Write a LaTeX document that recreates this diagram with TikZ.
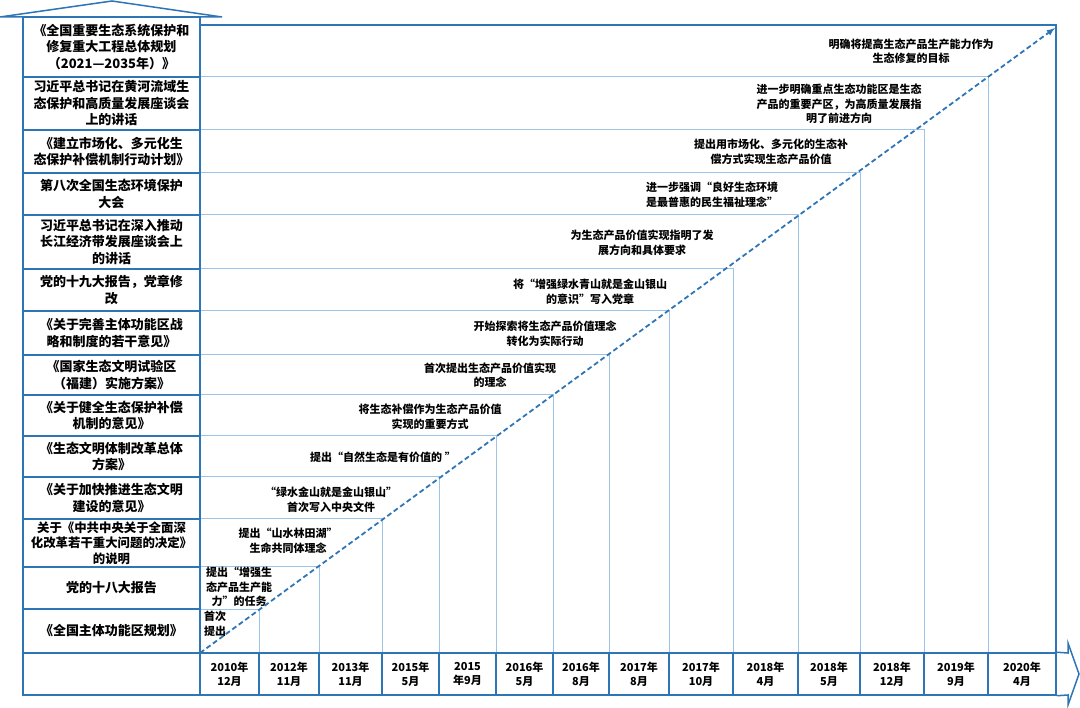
\documentclass[tikz,border=0pt]{standalone}
\usepackage{fontspec}
\newfontfamily\cjk{Noto Sans CJK SC}
\definecolor{bleu}{HTML}{2E75B6}
\definecolor{bleuclair}{HTML}{9DC3E6}
\begin{document}
\begin{tikzpicture}[x=1pt, y=-1pt, >=latex]
    % --- Définition des styles ---
    \tikzset{
        cadre/.style={draw=bleu, line width=1.5pt},
        grille/.style={draw=bleuclair, line width=1pt},
        doc_box/.style={cadre, minimum width=177pt, inner sep=0pt, align=center,
            font=\cjk\bfseries\fontsize{13}{16.5}\selectfont},
        date_box/.style={cadre, minimum height=42pt, inner sep=0pt, align=center,
            font=\cjk\bfseries\fontsize{11}{14}\selectfont},
        evt_txt/.style={align=center, inner sep=0pt,
            font=\cjk\bfseries\fontsize{11}{14.5}\selectfont},
        diag/.style={draw=bleu, line width=1.8pt, dash pattern=on 5pt off 3pt, ->}
    }
    \useasboundingbox (0,0) rectangle (1080,708);

    % =====================================================================
    % GRILLE EN ESCALIER
    % =====================================================================
    \foreach \xc/\yt in {259/609, 319/567, 382/519, 439/477, 496/436, 553/395, 609/355,
                         669/311, 733/269, 798/215, 860/173, 924/130, 988/77} {
        \draw[grille] (200,\yt) -- (\xc,\yt) -- (\xc,653);
    }
    \draw[draw=bleu, line width=1.2pt] (200,25) -- (1056,25) -- (1056,653);

    % Toit (flèche vers le haut)
    \draw[cadre] (0,17) -- (112,1) -- (222,17) -- cycle;

    % =====================================================================
    % COLONNE GAUCHE : DOCUMENTS
    % =====================================================================
    \node[doc_box, minimum height=60pt] (doc1) at (111.5,47)
        {《全国重要生态系统保护和\\修复重大工程总体规划\\（2021—2035年）》};
    \node[doc_box, minimum height=53pt] (doc2) at (111.5,103.5)
        {习近平总书记在黄河流域生\\态保护和高质量发展座谈会\\上的讲话};
    \node[doc_box, minimum height=43pt] (doc3) at (111.5,151.5)
        {《建立市场化、多元化生\\态保护补偿机制行动计划》};
    \node[doc_box, minimum height=42pt] (doc4) at (111.5,194)
        {第八次全国生态环境保护\\大会};
    \node[doc_box, minimum height=54pt] (doc5) at (111.5,242)
        {习近平总书记在深入推动\\长江经济带发展座谈会上\\的讲话};
    \node[doc_box, minimum height=42pt] (doc6) at (111.5,290)
        {党的十九大报告，党章修\\改};
    \node[doc_box, minimum height=44pt] (doc7) at (111.5,333)
        {《关于完善主体功能区战\\略和制度的若干意见》};
    \node[doc_box, minimum height=40pt] (doc8) at (111.5,375)
        {《国家生态文明试验区\\（福建）实施方案》};
    \node[doc_box, minimum height=41pt] (doc9) at (111.5,415.5)
        {《关于健全生态保护补偿\\机制的意见》};
    \node[doc_box, minimum height=41pt] (doc10) at (111.5,456.5)
        {《生态文明体制改革总体\\方案》};
    \node[doc_box, minimum height=42pt] (doc11) at (111.5,498)
        {《关于加快推进生态文明\\建设的意见》};
    \node[doc_box, minimum height=48pt, font=\cjk\bfseries\fontsize{12.4}{15.5}\selectfont] (doc12) at (111.5,543)
        {关于《中共中央关于全面深\\化改革若干重大问题的决定》\\的说明};
    \node[doc_box, minimum height=42pt] (doc13) at (111.5,588)
        {党的十八大报告};
    \node[doc_box, minimum height=44pt] (doc14) at (111.5,631)
        {《全国主体功能区规划》};
    \node[doc_box, minimum height=42pt] (axe) at (111.5,674) {};

    % =====================================================================
    % AXE DU TEMPS
    % =====================================================================
    \foreach \xa/\xb/\dt [count=\k] in {200/259/{2010年\\12月}, 259/319/{2012年\\11月},
            319/382/{2013年\\11月}, 382/439/{2015年\\5月}, 439/496/{2015\\年9月},
            496/553/{2016年\\5月}, 553/609/{2016年\\8月}, 609/669/{2017年\\8月},
            669/733/{2017年\\10月}, 733/798/{2018年\\4月}, 798/860/{2018年\\5月},
            860/924/{2018年\\12月}, 924/988/{2019年\\9月}, 988/1056/{2020年\\4月}} {
        \node[date_box, minimum width={(\xb-\xa)*1pt}] (date\k) at ({(\xa+\xb)/2},674) {\dt};
    }
    % Pointe de l'axe
    \draw[cadre] (date14.north east) -- (1068,653) -- (1068,643) -- (1079,674)
        -- (1068,705) -- (1068,695) -- (date14.south east);

    % =====================================================================
    % ÉVÉNEMENTS
    % =====================================================================
    \node[evt_txt] (evt1) at (911,51) {明确将提高生态产品生产能力作为\\生态修复的目标};
    \node[evt_txt] (evt2) at (839,104) {进一步明确重点生态功能区是生态\\产品的重要产区，为高质量发展指\\明了前进方向};
    \node[evt_txt] (evt3) at (771,152) {提出用市场化、多元化的生态补\\偿方式实现生态产品价值};
    \node[evt_txt] (evt4) at (712,195) {进一步强调“良好生态环境\\是最普惠的民生福祉理念”};
    \node[evt_txt] (evt5) at (642,243) {为生态产品价值实现指明了发\\展方向和具体要求};
    \node[evt_txt] (evt6) at (590,292) {将“增强绿水青山就是金山银山\\的意识”写入党章};
    \node[evt_txt] (evt7) at (545,334) {开始探索将生态产品价值理念\\转化为实际行动};
    \node[evt_txt] (evt8) at (490,375) {首次提出生态产品价值实现\\的理念};
    \node[evt_txt] (evt9) at (430,417) {将生态补偿作为生态产品价值\\实现的重要方式};
    \node[evt_txt] (evt10) at (383,457) {提出“自然生态是有价值的 ”};
    \node[evt_txt] (evt11) at (331,500) {“绿水金山就是金山银山”\\首次写入中央文件};
    \node[evt_txt] (evt12) at (288,541) {提出“山水林田湖”\\生命共同体理念};
    \node[evt_txt] (evt13) at (239,587) {提出“增强生\\态产品生产能\\力”的任务};
    \node[evt_txt, align=left, anchor=west] (evt14) at (204,624) {首次\\提出};

    % Flèche diagonale
    \coordinate (depart) at (200,653);
    \coordinate (arrivee) at (1055,28);
    \draw[diag] (depart) -- (arrivee);

\end{tikzpicture}
\end{document}
